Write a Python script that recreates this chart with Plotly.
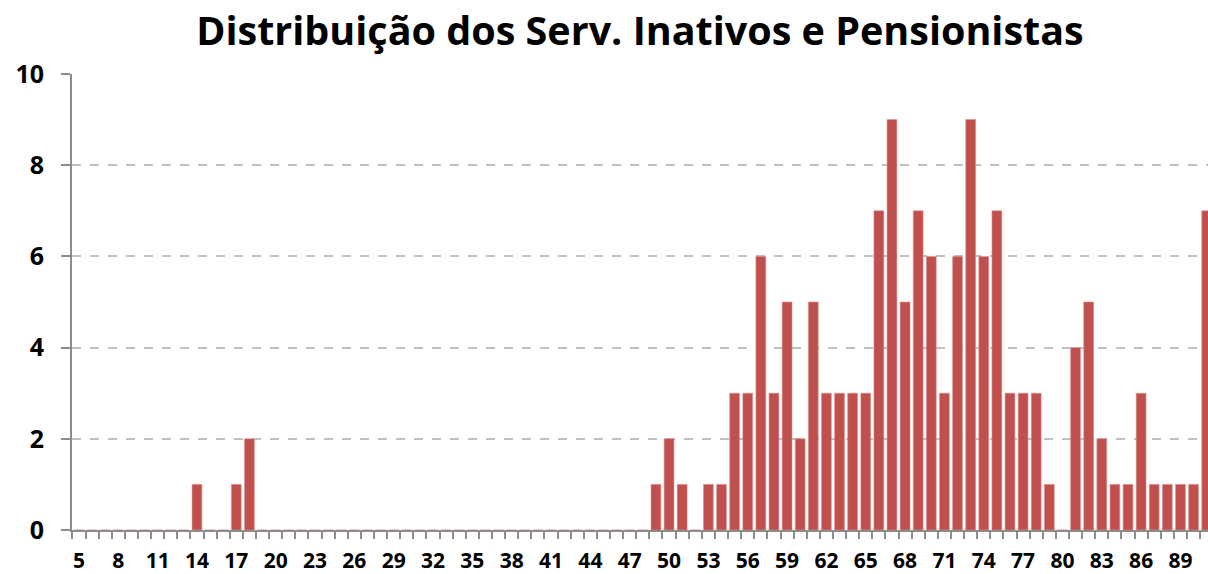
import plotly.graph_objects as go

ages = list(range(5, 92))
values = {14: 1, 17: 1, 18: 2, 49: 1, 50: 2, 51: 1, 53: 1, 54: 1, 55: 3, 56: 3,
          57: 6, 58: 3, 59: 5, 60: 2, 61: 5, 62: 3, 63: 3, 64: 3, 65: 3, 66: 7,
          67: 9, 68: 5, 69: 7, 70: 6, 71: 3, 72: 6, 73: 9, 74: 6, 75: 7, 76: 3,
          77: 3, 78: 3, 79: 1, 80: 0, 81: 4, 82: 5, 83: 2, 84: 1, 85: 1, 86: 3,
          87: 1, 88: 1, 89: 1, 90: 1, 91: 7}
counts = [values.get(a, 0) for a in ages]
tick_labels = list(range(5, 90, 3))
title = "Distribuição dos Serv. Inativos e Pensionistas"

font_family = "Open Sans"

fig = go.Figure()
fig.add_trace(go.Bar(
    x=ages, y=counts,
    marker=dict(color="#C0504D", line=dict(color="#D8908E", width=0.6)),
    width=0.75,
))

fig.update_layout(
    width=1208, height=574,
    margin=dict(l=72, r=0, t=74, b=44),
    paper_bgcolor="white", plot_bgcolor="white",
    showlegend=False,
    title=dict(text=title, x=0.5, xref="paper", xanchor="center",
               y=1 - 31/574, yref="container", yanchor="middle",
               font=dict(family=font_family, size=39.5, color="black", weight="bold")),
    font=dict(family=font_family, color="black"),
)

fig.update_xaxes(
    range=[4.47, 91.1],
    tickmode="array", tickvals=tick_labels, ticktext=[str(t) for t in tick_labels],
    ticks="", showgrid=False, zeroline=False,
    showline=True, linecolor="#8C8C8C", linewidth=2,
    tickfont=dict(family=font_family, size=21, color="black", weight="bold"),
    minor=dict(tickmode="array", tickvals=[a - 0.5 for a in ages] + [91.5],
               ticks="outside", ticklen=7, tickwidth=2, tickcolor="#8C8C8C",
               showgrid=False),
    ticklabelstandoff=11,
)

fig.update_yaxes(
    range=[0, 10], tickmode="array", tickvals=[0, 2, 4, 6, 8, 10],
    showgrid=True, gridcolor="#C0C0C0", griddash="dash", gridwidth=1.5,
    zeroline=False,
    showline=True, linecolor="#8C8C8C", linewidth=2,
    ticks="outside", ticklen=9, tickwidth=2, tickcolor="#8C8C8C",
    tickfont=dict(family=font_family, size=25, color="black", weight="bold"),
    ticklabelstandoff=12,
)

fig.write_html(
    "out.html",
    config={"displayModeBar": False},
    post_script="document.body.style.margin='0px';document.body.style.overflow='hidden';",
)
